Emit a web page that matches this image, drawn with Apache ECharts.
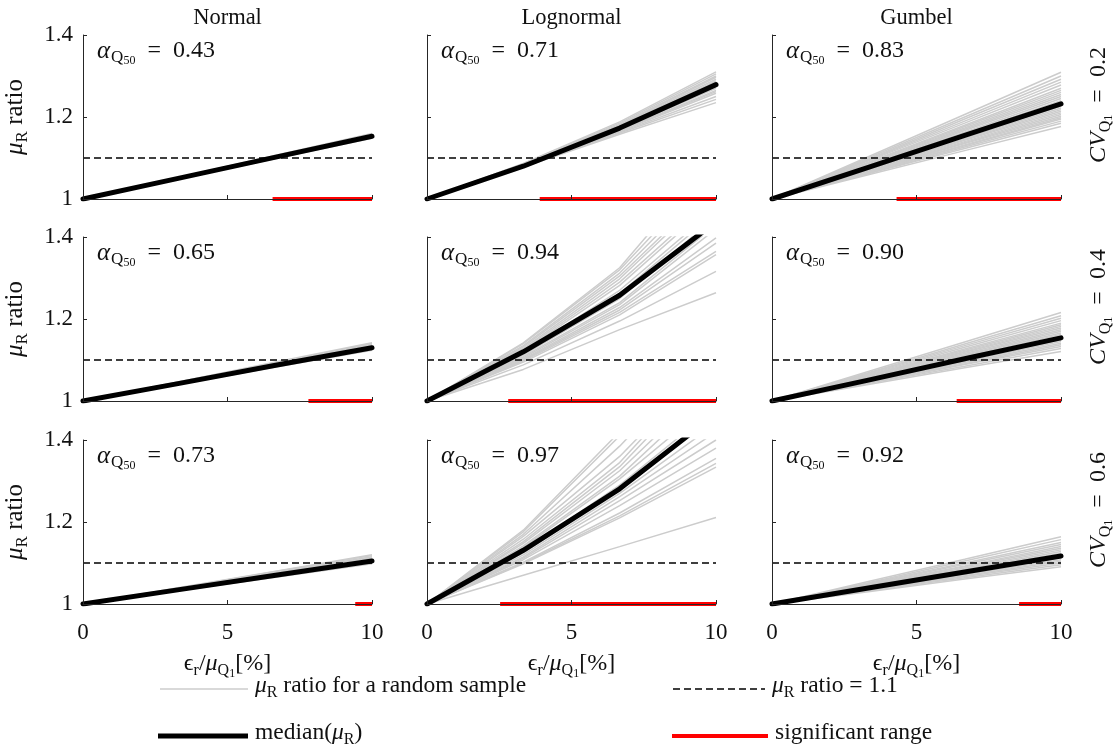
<!DOCTYPE html>
<html>
<head>
<meta charset="utf-8">
<script src="https://cdn.jsdelivr.net/npm/echarts@6/dist/echarts.min.js"></script>
<style>
  html, body { margin: 0; padding: 0; background: #ffffff; }
  #chart { width: 1118px; height: 748px; }
</style>
</head>
<body>
<div id="chart"></div>
<script>
// ---- data -------------------------------------------------------------
const distributions = ['Normal', 'Lognormal', 'Gumbel'];
const cvLevels = ['0.2', '0.4', '0.6'];
const xPoints = [0, 3.333, 6.667, 10];
const xTickValues = [0, 5, 10];
const yTickValues = [1, 1.2, 1.4];
const ratioThreshold = 1.1;

// alpha_Q50 per row (CV) and column (distribution)
const alphaRow02 = [0.43, 0.71, 0.83];
const alphaRow04 = [0.65, 0.94, 0.90];
const alphaRow06 = [0.73, 0.97, 0.92];

// start of the significant range (ends at 10 %)
const sigStartRow02 = [6.56, 3.9, 4.31];
const sigStartRow04 = [7.8, 2.81, 6.39];
const sigStartRow06 = [9.42, 2.53, 8.55];

// median curves
const medianNormal02 = [1, 1.051, 1.102, 1.153];
const medianNormal04 = [1, 1.043, 1.087, 1.130];
const medianNormal06 = [1, 1.035, 1.070, 1.105];
const medianLognormal02 = [1, 1.080, 1.173, 1.279];
const medianLognormal04 = [1, 1.120, 1.258, 1.437];
const medianLognormal06 = [1, 1.131, 1.281, 1.464];
const medianGumbel02 = [1, 1.077, 1.155, 1.232];
const medianGumbel04 = [1, 1.051, 1.103, 1.154];
const medianGumbel06 = [1, 1.039, 1.078, 1.117];

// random-sample curves
const samplesNormal02 = [
  [1, 1.049, 1.099, 1.148], [1, 1.050, 1.100, 1.150], [1, 1.051, 1.101, 1.152],
  [1, 1.051, 1.103, 1.154], [1, 1.052, 1.103, 1.155], [1, 1.052, 1.105, 1.157],
  [1, 1.053, 1.105, 1.158], [1, 1.053, 1.107, 1.160]
];
const samplesNormal04 = [
  [1, 1.041, 1.083, 1.124], [1, 1.043, 1.085, 1.128], [1, 1.044, 1.087, 1.131],
  [1, 1.045, 1.089, 1.134], [1, 1.045, 1.091, 1.136], [1, 1.046, 1.092, 1.138],
  [1, 1.047, 1.093, 1.140], [1, 1.047, 1.095, 1.142]
];
const samplesNormal06 = [
  [1, 1.033, 1.065, 1.098], [1, 1.034, 1.068, 1.102], [1, 1.035, 1.071, 1.106],
  [1, 1.036, 1.073, 1.109], [1, 1.037, 1.075, 1.112], [1, 1.038, 1.077, 1.115],
  [1, 1.039, 1.079, 1.118], [1, 1.040, 1.080, 1.120]
];
const samplesLognormal02 = [
  [1, 1.078, 1.158, 1.235], [1, 1.079, 1.161, 1.243], [1, 1.080, 1.163, 1.250],
  [1, 1.080, 1.165, 1.258], [1, 1.081, 1.167, 1.265], [1, 1.082, 1.170, 1.270],
  [1, 1.082, 1.171, 1.275], [1, 1.083, 1.174, 1.283], [1, 1.083, 1.176, 1.288],
  [1, 1.084, 1.178, 1.292], [1, 1.084, 1.180, 1.297], [1, 1.085, 1.182, 1.300],
  [1, 1.086, 1.185, 1.305], [1, 1.087, 1.188, 1.310], [1, 1.081, 1.166, 1.262],
  [1, 1.083, 1.175, 1.286]
];
const samplesLognormal04 = [
  [1, 1.077, 1.174, 1.264], [1, 1.088, 1.195, 1.316], [1, 1.095, 1.210, 1.357],
  [1, 1.098, 1.216, 1.365], [1, 1.100, 1.222, 1.385], [1, 1.102, 1.228, 1.398],
  [1, 1.105, 1.235, 1.420], [1, 1.108, 1.240, 1.430], [1, 1.112, 1.250, 1.450],
  [1, 1.115, 1.262, 1.460], [1, 1.118, 1.270, 1.470], [1, 1.122, 1.282, 1.490],
  [1, 1.125, 1.290, 1.500], [1, 1.128, 1.298, 1.520], [1, 1.132, 1.305, 1.530],
  [1, 1.135, 1.312, 1.550], [1, 1.140, 1.320, 1.570], [1, 1.142, 1.325, 1.600]
];
const samplesLognormal06 = [
  [1, 1.070, 1.140, 1.211], [1, 1.098, 1.210, 1.334], [1, 1.100, 1.215, 1.343],
  [1, 1.102, 1.222, 1.355], [1, 1.108, 1.240, 1.380], [1, 1.112, 1.252, 1.400],
  [1, 1.115, 1.262, 1.420], [1, 1.120, 1.270, 1.440], [1, 1.125, 1.280, 1.460],
  [1, 1.130, 1.290, 1.480], [1, 1.138, 1.305, 1.500], [1, 1.142, 1.312, 1.530],
  [1, 1.148, 1.325, 1.550], [1, 1.152, 1.335, 1.580], [1, 1.158, 1.345, 1.600],
  [1, 1.165, 1.360, 1.600], [1, 1.170, 1.385, 1.630], [1, 1.176, 1.410, 1.680],
  [1, 1.180, 1.420, 1.700]
];
const samplesGumbel02 = [
  [1, 1.059, 1.118, 1.177], [1, 1.062, 1.123, 1.185], [1, 1.063, 1.127, 1.190],
  [1, 1.065, 1.130, 1.195], [1, 1.066, 1.132, 1.198], [1, 1.067, 1.135, 1.202],
  [1, 1.069, 1.137, 1.206], [1, 1.070, 1.140, 1.210], [1, 1.071, 1.143, 1.214],
  [1, 1.073, 1.145, 1.218], [1, 1.074, 1.148, 1.222], [1, 1.075, 1.151, 1.226],
  [1, 1.079, 1.157, 1.236], [1, 1.080, 1.160, 1.240], [1, 1.082, 1.163, 1.245],
  [1, 1.083, 1.167, 1.250], [1, 1.085, 1.170, 1.255], [1, 1.087, 1.173, 1.260],
  [1, 1.088, 1.177, 1.265], [1, 1.090, 1.180, 1.270], [1, 1.093, 1.185, 1.278],
  [1, 1.095, 1.190, 1.285], [1, 1.097, 1.195, 1.292], [1, 1.100, 1.200, 1.300],
  [1, 1.103, 1.206, 1.309]
];
const samplesGumbel04 = [
  [1, 1.040, 1.081, 1.121], [1, 1.043, 1.085, 1.128], [1, 1.044, 1.089, 1.133],
  [1, 1.046, 1.091, 1.137], [1, 1.047, 1.094, 1.141], [1, 1.048, 1.097, 1.145],
  [1, 1.050, 1.099, 1.149], [1, 1.053, 1.105, 1.158], [1, 1.054, 1.108, 1.162],
  [1, 1.055, 1.111, 1.166], [1, 1.057, 1.113, 1.170], [1, 1.058, 1.116, 1.174],
  [1, 1.059, 1.119, 1.178], [1, 1.061, 1.121, 1.182], [1, 1.062, 1.124, 1.186],
  [1, 1.063, 1.127, 1.190], [1, 1.065, 1.131, 1.196], [1, 1.067, 1.135, 1.202],
  [1, 1.069, 1.139, 1.208], [1, 1.072, 1.144, 1.216]
];
const samplesGumbel06 = [
  [1, 1.030, 1.061, 1.091], [1, 1.032, 1.064, 1.096], [1, 1.033, 1.067, 1.100],
  [1, 1.035, 1.069, 1.104], [1, 1.036, 1.072, 1.108], [1, 1.037, 1.075, 1.112],
  [1, 1.040, 1.080, 1.120], [1, 1.041, 1.083, 1.124], [1, 1.043, 1.085, 1.128],
  [1, 1.044, 1.088, 1.132], [1, 1.045, 1.091, 1.136], [1, 1.047, 1.093, 1.140],
  [1, 1.048, 1.097, 1.145], [1, 1.050, 1.100, 1.150], [1, 1.052, 1.105, 1.157],
  [1, 1.055, 1.109, 1.164]
];

// ---- layout -------------------------------------------------------------
const FONT = '"Liberation Serif", "DejaVu Serif", serif';
const TEXT = '#111111';
const AXIS = '#262626';
const colLeft = [83, 427, 772];
const rowTop = [35, 237, 440];
const panelW = 289;
const panelH = 164;

const panels = [
  [
    { median: medianNormal02, samples: samplesNormal02 },
    { median: medianLognormal02, samples: samplesLognormal02 },
    { median: medianGumbel02, samples: samplesGumbel02 }
  ],
  [
    { median: medianNormal04, samples: samplesNormal04 },
    { median: medianLognormal04, samples: samplesLognormal04 },
    { median: medianGumbel04, samples: samplesGumbel04 }
  ],
  [
    { median: medianNormal06, samples: samplesNormal06 },
    { median: medianLognormal06, samples: samplesLognormal06 },
    { median: medianGumbel06, samples: samplesGumbel06 }
  ]
];
const alphaRows = [alphaRow02, alphaRow04, alphaRow06];
const sigRows = [sigStartRow02, sigStartRow04, sigStartRow06];

const toPairs = (ys) => ys.map((y, i) => [xPoints[i], y]);

// rich-text styles for the math-like labels (m: italic symbol, t: upright,
// s: subscript, ss: second-level subscript)
function mathRich(base) {
  const sub = Math.round(base * 0.68);
  const sub2 = Math.round(base * 0.5);
  const tok = (size, extra) => Object.assign({ fontFamily: FONT, fontSize: size, color: TEXT, fill: TEXT }, extra || {});
  return {
    m: tok(base, { fontStyle: 'italic' }),
    e: tok(base),
    t: tok(base),
    s: tok(sub, { padding: [Math.round(base * 0.55), 0, 0, 0] }),
    ss: tok(sub2, { padding: [Math.round(base * 0.85), 0, 0, 0] })
  };
}

const grids = [], xAxes = [], yAxes = [], series = [], graphics = [];

for (let r = 0; r < 3; r++) {
  for (let c = 0; c < 3; c++) {
    const idx = r * 3 + c;
    const p = panels[r][c];
    grids.push({ left: colLeft[c], top: rowTop[r], width: panelW, height: panelH, outerBoundsMode: 'none' });
    const bottomRow = r === 2;
    const leftCol = c === 0;
    xAxes.push({
      type: 'value', gridIndex: idx,
      min: xTickValues[0], max: xTickValues[xTickValues.length - 1], interval: xTickValues[1] - xTickValues[0],
      z: 10,
      axisLine: { show: true, onZero: false, lineStyle: { color: AXIS, width: 1 } },
      axisTick: { show: true, inside: true, length: 4, lineStyle: { color: AXIS, width: 1 } },
      splitLine: { show: false },
      axisLabel: { show: bottomRow, margin: 17, color: TEXT, fontFamily: FONT, fontSize: 23 },
      name: bottomRow ? '{e|ϵ}{s|r}{t|/}{m|μ}{s|Q}{ss|1}{t|[%]}' : '',
      nameLocation: 'middle', nameGap: 44,
      nameTextStyle: { rich: mathRich(24) }
    });
    yAxes.push({
      type: 'value', gridIndex: idx,
      min: yTickValues[0], max: yTickValues[yTickValues.length - 1], interval: yTickValues[1] - yTickValues[0],
      z: 10,
      axisLine: { show: true, onZero: false, lineStyle: { color: AXIS, width: 1 } },
      axisTick: { show: true, inside: true, length: 4, lineStyle: { color: AXIS, width: 1 } },
      splitLine: { show: false },
      axisLabel: { show: leftCol, margin: 10, color: TEXT, fontFamily: FONT, fontSize: 23 },
      name: leftCol ? '{m|μ}{s|R}{t| ratio}' : '',
      nameLocation: 'middle', nameGap: 52, nameRotate: 90,
      nameTextStyle: { rich: mathRich(25) }
    });

    // random-sample curves
    p.samples.forEach((s) => {
      series.push({
        type: 'line', xAxisIndex: idx, yAxisIndex: idx, data: toPairs(s),
        symbol: 'none', silent: true, z: 1,
        lineStyle: { color: '#cccccc', width: 1.5 }
      });
    });
    // threshold line
    series.push({
      type: 'line', xAxisIndex: idx, yAxisIndex: idx,
      data: [[xTickValues[0], ratioThreshold], [xTickValues[2], ratioThreshold]],
      symbol: 'none', silent: true, z: 2,
      lineStyle: { color: '#000000', width: 1.4, type: [7, 4] }
    });
    // median curve
    series.push({
      type: 'line', xAxisIndex: idx, yAxisIndex: idx, data: toPairs(p.median),
      symbol: 'none', silent: true, z: 3,
      lineStyle: { color: '#000000', width: 5, cap: 'round', join: 'round' }
    });
    // significant range
    series.push({
      type: 'line', xAxisIndex: idx, yAxisIndex: idx, clip: false,
      data: [[sigRows[r][c], 1], [xTickValues[2], 1]],
      symbol: 'none', silent: true, z: 4,
      lineStyle: { color: '#ff0000', width: 4 }
    });

    // alpha annotation
    graphics.push({
      type: 'text', x: colLeft[c] + 14, y: rowTop[r] + 16, silent: true,
      style: {
        text: '{a|α}{q|Q}{n|50}{e|\u2002=\u2002' + alphaRows[r][c].toFixed(2) + '}',
        verticalAlign: 'middle',
        rich: {
          a: { fontFamily: FONT, fontSize: 25, fontStyle: 'italic', fill: TEXT },
          q: { fontFamily: FONT, fontSize: 17, fill: TEXT, padding: [14, 0, 0, 1] },
          n: { fontFamily: FONT, fontSize: 12, fill: TEXT, padding: [20, 0, 0, 0] },
          e: { fontFamily: FONT, fontSize: 24, fill: TEXT }
        }
      }
    });
  }
}

// column titles
distributions.forEach((d, c) => {
  graphics.push({
    type: 'text', x: colLeft[c] + panelW / 2, y: 18, silent: true,
    style: { text: d, fontFamily: FONT, fontSize: 22.5, fill: TEXT, align: 'center', verticalAlign: 'middle' }
  });
});

// row labels on the right
cvLevels.forEach((cv, r) => {
  graphics.push({
    type: 'text', x: 1099, y: rowTop[r] + 70, rotation: Math.PI / 2, silent: true,
    style: {
      text: '{m|CV}{s|Q}{ss|1}{t|\u2002=\u2002' + cv + '}',
      align: 'center', verticalAlign: 'middle',
      rich: {
        m: { fontFamily: FONT, fontSize: 24, fontStyle: 'italic', fill: TEXT },
        t: { fontFamily: FONT, fontSize: 24, fill: TEXT },
        s: { fontFamily: FONT, fontSize: 16, fill: TEXT, padding: [13, 0, 0, 0] },
        ss: { fontFamily: FONT, fontSize: 12, fill: TEXT, padding: [20, 0, 0, 0] }
      }
    }
  });
});

// legend
const legendRich = {
  m: { fontFamily: FONT, fontSize: 23.5, fontStyle: 'italic', fill: TEXT },
  t: { fontFamily: FONT, fontSize: 23.5, fill: TEXT },
  s: { fontFamily: FONT, fontSize: 16, fill: TEXT, padding: [13, 0, 0, 0] }
};
const legendItems = [
  { x: 160, y: 689, len: 88, stroke: '#cccccc', width: 1.5, dash: null, text: '{m|μ}{s|R}{t| ratio for a random sample}' },
  { x: 158, y: 736, len: 90, stroke: '#000000', width: 5, dash: null, text: '{t|median(}{m|μ}{s|R}{t|)}' },
  { x: 673, y: 689, len: 92, stroke: '#000000', width: 1.4, dash: [7, 4], text: '{m|μ}{s|R}{t| ratio = 1.1}' },
  { x: 672, y: 736, len: 96, stroke: '#ff0000', width: 4, dash: null, text: '{t|significant range}' }
];
legendItems.forEach((it) => {
  graphics.push({
    type: 'line', silent: true,
    shape: { x1: it.x, y1: it.y, x2: it.x + it.len, y2: it.y },
    style: { stroke: it.stroke, lineWidth: it.width, lineDash: it.dash }
  });
  graphics.push({
    type: 'text', x: it.x + it.len + 7, y: it.y - 3, silent: true,
    style: { text: it.text, verticalAlign: 'middle', rich: legendRich }
  });
});

const chart = echarts.init(document.getElementById('chart'), null, { renderer: 'canvas' });
chart.setOption({
  backgroundColor: '#ffffff',
  animation: false,
  grid: grids,
  xAxis: xAxes,
  yAxis: yAxes,
  series: series,
  graphic: { elements: graphics }
});
</script>
</body>
</html>
